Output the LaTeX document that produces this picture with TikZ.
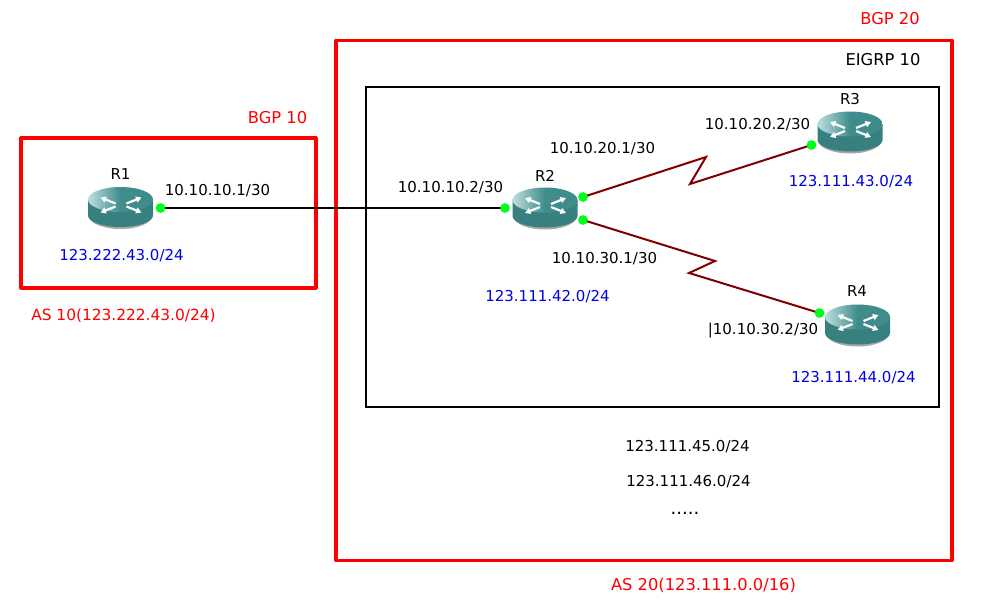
\documentclass[tikz,border=0pt]{standalone}
\usepackage{fontspec}
\setmainfont{DejaVu Sans}
\usetikzlibrary{arrows.meta}
\definecolor{teal1}{RGB}{62,140,140}
\definecolor{teal2}{RGB}{56,128,128}
\definecolor{teallight}{RGB}{190,222,222}
\definecolor{serial}{RGB}{128,0,0}
\definecolor{ipblue}{RGB}{0,0,230}
\definecolor{dotgreen}{RGB}{0,255,30}
\tikzset{
  x=1pt,y=-1pt,
  every node/.style={font=\fontsize{15}{15}\selectfont,inner sep=0pt,text=black},
  zonered/.style={draw=red,line width=3.2pt,line join=round},
  zoneblack/.style={draw=black,line width=1.3pt},
  redtext/.style={text=red},
  bluetext/.style={text=ipblue},
  widetext/.style={font=\fontsize{16.3}{16}\selectfont},
  iface/.style={circle,fill=dotgreen,minimum size=9.5pt},
  ethlink/.style={draw=black,line width=2pt},
  seriallink/.style={draw=serial,line width=2pt,line join=miter},
  rarrow/.style={draw=white,line width=2.2pt,-{Triangle[length=5.5pt,width=6pt]}},
  router/.pic={
    \fill[black!35] (-31,9) arc[start angle=180,end angle=0,x radius=31,y radius=12.5] -- cycle;
    \fill[teal2] (-32.5,-8) -- (-32.5,8) arc[start angle=180,end angle=0,x radius=32.5,y radius=11.5] -- (32.5,-8) -- cycle;
    \shade[left color=teallight,right color=teal1,middle color=teal1,shading angle=90]
      (0,-8) ellipse[x radius=32.5,y radius=12.5];
    \draw[rarrow] (-5,-4) -- (-20,-10);
    \draw[rarrow] (6,-4) -- (21,-10);
    \draw[rarrow] (-5,-1) -- (-20,5);
    \draw[rarrow] (6,-1) -- (21,5);
  }
}
\begin{document}
\begin{tikzpicture}
\useasboundingbox (0,0) rectangle (982,610);
\fill[white] (0,0) rectangle (982,610);
% zones
\node[zonered,minimum width=295pt,minimum height=150pt] (as10) at (168.5,213) {};
\node[zonered,minimum width=616pt,minimum height=520pt] (as20) at (644,300.5) {};
\node[zoneblack,minimum width=573pt,minimum height=320pt] (eigrp) at (652.5,247) {};
% routers
\pic at (120.5,207.5) {router};
\pic at (545,208) {router};
\pic at (850,132) {router};
\pic at (857.5,325) {router};
% interfaces
\node[iface] (r1a) at (160.5,208) {};
\node[iface] (r2a) at (505,208) {};
\node[iface] (r2b) at (583,197) {};
\node[iface] (r2c) at (583,220) {};
\node[iface] (r3a) at (811.5,145) {};
\node[iface] (r4a) at (819.5,313) {};
\coordinate (z1) at (706,157);
\coordinate (z2) at (690,184);
\coordinate (z3) at (715,261);
\coordinate (z4) at (689,273);
% links
\draw[ethlink] (r1a.center) -- (r2a.center);
\draw[seriallink] (r2b.center) -- (z1) -- (z2) -- (r3a.center);
\draw[seriallink] (r2c.center) -- (z3) -- (z4) -- (r4a.center);
\node[iface] (r1b) at (160.5,208) {};
\node[iface] (r2d) at (505,208) {};
\node[iface] (r2e) at (583,197) {};
\node[iface] (r2f) at (583,220) {};
\node[iface] (r3b) at (811.5,145) {};
\node[iface] (r4b) at (819.5,313) {};
% names
\node (n1) at (120.5,174.5) {R1};
\node (n2) at (545,175.5) {R2};
\node (n3) at (850,99.5) {R3};
\node (n4) at (857,291.5) {R4};
% labels
\node[redtext,widetext] (b10) at (277.5,117.5) {BGP 10};
\node[redtext,widetext] (b20) at (890,18.5) {BGP 20};
\node[widetext] (e10) at (883,59.5) {EIGRP 10};
\node[redtext,font=\fontsize{15.4}{15}\selectfont] (a10) at (123.5,316) {AS 10(123.222.43.0/24)};
\node[redtext,widetext] (a20) at (703.5,585.5) {AS 20(123.111.0.0/16)};
\node (i1) at (217.5,190.5) {10.10.10.1/30};
\node (i2) at (450.5,187.5) {10.10.10.2/30};
\node (i3) at (602.5,148.5) {10.10.20.1/30};
\node (i4) at (757.5,124.5) {10.10.20.2/30};
\node (i5) at (604.5,258.5) {10.10.30.1/30};
\node (i6) at (763,330.5) {|10.10.30.2/30};
\node[bluetext] (p1) at (121.5,255.5) {123.222.43.0/24};
\node[bluetext] (p2) at (547.5,296.5) {123.111.42.0/24};
\node[bluetext] (p3) at (851,181.5) {123.111.43.0/24};
\node[bluetext] (p4) at (853.5,377.5) {123.111.44.0/24};
\node (p5) at (687.5,446.5) {123.111.45.0/24};
\node (p6) at (688.5,481.5) {123.111.46.0/24};
\node[font=\fontsize{18}{18}\selectfont] (dd) at (685,513) {.....};
\end{tikzpicture}
\end{document}
